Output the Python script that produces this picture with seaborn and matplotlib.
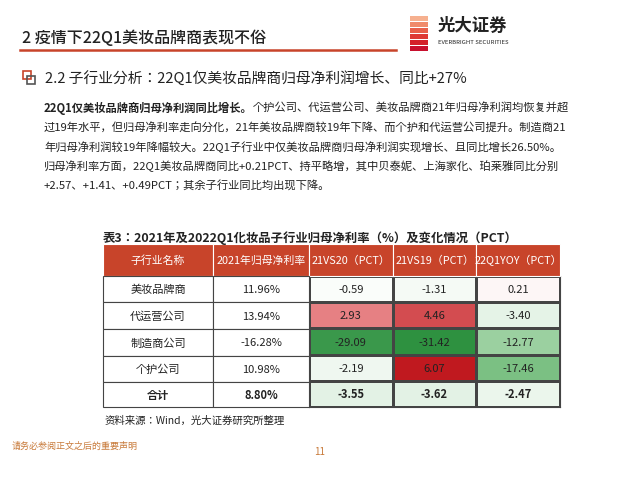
import matplotlib
matplotlib.use("Agg")
import matplotlib.pyplot as plt
import matplotlib.patches as mp
from matplotlib.colors import LinearSegmentedColormap, TwoSlopeNorm
import numpy as np
import pandas as pd
import seaborn as sns

plt.rcParams["font.family"] = ["Noto Sans CJK JP", "Noto Sans CJK SC", "DejaVu Sans"]

categories = ["美妆品牌商", "代运营公司", "制造商公司", "个护公司", "合计"]
margin_2021 = ["11.96%", "13.94%", "-16.28%", "10.98%", "8.80%"]
vs20 = [-0.59, 2.93, -29.09, -2.19, -3.55]
vs19 = [-1.31, 4.46, -31.42, 6.07, -3.62]
yoy22 = [0.21, -3.40, -12.77, -17.46, -2.47]
headers = ["子行业名称", "2021年归母净利率", "21VS20（PCT）", "21VS19（PCT）", "22Q1YOY（PCT）"]

W, H = 641, 481
fig = plt.figure(figsize=(W/100, H/100), dpi=100)
def fx(x): return x / W
def fy(y): return 1 - y / H

# Title & logo
fig.text(fx(22), fy(39), "2 疫情下22Q1美妆品牌商表现不俗", fontsize=11.5, fontweight="medium", color="#222", va="center")
fig.add_artist(plt.Line2D([fx(20), fx(396)], [fy(51), fy(51)], color="#c8442a", lw=1.8))
for i, c in enumerate(["#f6b08f", "#f08a6a", "#e8604a", "#de3a35", "#d4202a", "#c8102e"]):
    fig.add_artist(mp.Rectangle((fx(410), fy(16 + 6*(i+1))), fx(18), 5/H, color=c, lw=0))
fig.text(fx(438), fy(26), "光大证券", fontsize=12.5, fontweight="bold", color="#222", va="center")
fig.text(fx(438), fy(42), "EVERBRIGHT SECURITIES", fontsize=4.3, color="#222", va="center")

# Subtitle
fig.add_artist(mp.Rectangle((fx(23), fy(80)), 8/W, 8/H, fill=False, ec="#c8442a", lw=1.2))
fig.add_artist(mp.Rectangle((fx(27), fy(85)), 8/W, 8/H, fill=False, ec="#555", lw=1.2))
fig.text(fx(45), fy(79), "2.2 子行业分析：22Q1仅美妆品牌商归母净利润增长、同比+27%", fontsize=10.6, color="#222", va="center")

# Body
fs = 8.1
fig.canvas.draw()
r = fig.canvas.get_renderer()
t = fig.text(fx(44), fy(108), "22Q1仅美妆品牌商归母净利润同比增长。", fontsize=fs, fontweight="bold", color="#222", va="center")
bb = t.get_window_extent(r)
fig.text(bb.x1 / W, fy(108), "个护公司、代运营公司、美妆品牌商21年归母净利润均恢复并超",
         fontsize=fs, color="#222", va="center")
lines = ["过19年水平，但归母净利率走向分化，21年美妆品牌商较19年下降、而个护和代运营公司提升。制造商21",
         "年归母净利润较19年降幅较大。22Q1子行业中仅美妆品牌商归母净利润实现增长、且同比增长26.50%。",
         "归母净利率方面，22Q1美妆品牌商同比+0.21PCT、持平略增，其中贝泰妮、上海家化、珀莱雅同比分别",
         "+2.57、+1.41、+0.49PCT；其余子行业同比均出现下降。"]
for i, l in enumerate(lines):
    fig.text(fx(44), fy(128 + 19.3*i), l, fontsize=fs, color="#222", va="center")

fig.text(fx(103), fy(238), "表3：2021年及2022Q1化妆品子行业归母净利率（%）及变化情况（PCT）", fontsize=8.9,
         fontweight="bold", color="#222", va="center")

# Table geometry
xs = [103, 213, 309, 393, 476, 560]
ys = [245, 277, 303, 330, 357, 383, 408]
red = "#c8442a"
for j in range(5):
    fig.add_artist(mp.Rectangle((fx(xs[j]), fy(ys[1])), (xs[j+1]-xs[j])/W, (ys[1]-ys[0])/H,
                                fc=red, ec="white", lw=0.8))
    fig.text(fx((xs[j]+xs[j+1])/2), fy((ys[0]+ys[1])/2), headers[j], fontsize=7.8, color="white",
             ha="center", va="center")
for i in range(5):
    for j in range(2):
        fig.add_artist(mp.Rectangle((fx(xs[j]), fy(ys[i+2])), (xs[j+1]-xs[j])/W, (ys[i+2]-ys[i+1])/H,
                                    fc="white", ec="#444", lw=0.8))
    w = "bold" if i == 4 else "normal"
    cy = fy((ys[i+1]+ys[i+2])/2)
    fig.text(fx((xs[0]+xs[1])/2), cy, categories[i], fontsize=8, ha="center", va="center", fontweight=w, color="#222")
    fig.text(fx((xs[1]+xs[2])/2), cy, margin_2021[i], fontsize=8, ha="center", va="center", fontweight=w, color="#222")

df = pd.DataFrame({"a": vs20, "b": vs19, "c": yoy22})
cmap = LinearSegmentedColormap.from_list("rg", ["#2e9140", "#86c68c", "#ffffff", "#e57b7e", "#c0191f"])
norm = TwoSlopeNorm(vmin=-31.42, vcenter=0, vmax=6.07)
ax = fig.add_axes([fx(xs[2]), fy(ys[6]), (xs[5]-xs[2])/W, (ys[6]-ys[1])/H])
annot = df.map(lambda v: f"{v:.2f}").values
sns.heatmap(df, ax=ax, cmap=cmap, norm=norm, cbar=False, annot=annot, fmt="",
            annot_kws={"fontsize": 8, "color": "#222"}, linewidths=0.8, linecolor="#444",
            xticklabels=False, yticklabels=False)
for tx in ax.texts:
    if tx.get_position()[1] > 4:
        tx.set_fontweight("bold")
for s in ax.spines.values():
    s.set_visible(True); s.set_color("#444"); s.set_linewidth(0.8)

fig.text(fx(105), fy(421), "资料来源：Wind，光大证券研究所整理", fontsize=7.5, color="#222", va="center")
fig.text(fx(12), fy(446), "请务必参阅正文之后的重要声明", fontsize=6.5, color="#c87a3a", va="center")
fig.text(fx(320), fy(452), "11", fontsize=7, color="#c87a3a", ha="center", va="center")

fig.savefig("out.png", dpi=100)
